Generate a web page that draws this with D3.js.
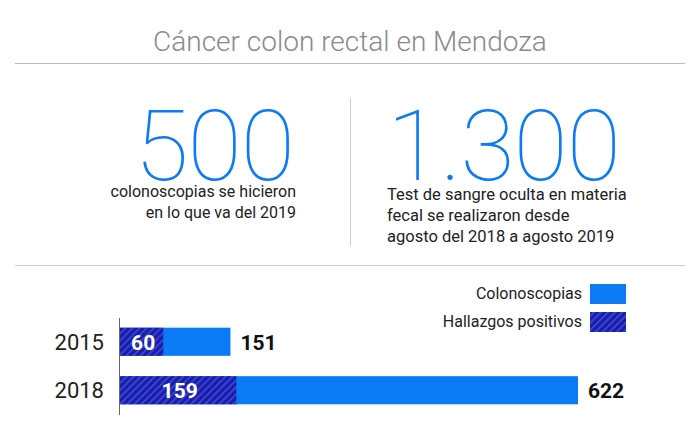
<!DOCTYPE html>
<html><head><meta charset="utf-8">
<script src="https://cdn.jsdelivr.net/npm/d3@7"></script>
<style>body{margin:0;background:#fff}text{font-family:Roboto,sans-serif}</style>
</head><body><svg id="c" width="700" height="442"></svg>
<script>
const years = ['2015', '2018'];
const colonoscopias = [151, 622];
const hallazgos = [60, 159];
const legendLabels = ['Colonoscopias', 'Hallazgos positivos'];

const svg = d3.select('#c');
const blue = '#0a7bf5', navy = '#1c1ca8';

const defs = svg.append('defs');
const pat = defs.append('pattern').attr('id', 'hatch').attr('patternUnits', 'userSpaceOnUse')
	.attr('width', 5).attr('height', 5).attr('patternTransform', 'rotate(45)');
pat.append('rect').attr('width', 5).attr('height', 5).attr('fill', navy);
pat.append('rect').attr('width', 1.4).attr('height', 5).attr('fill', '#3a55e0');

// header
svg.append('text').attr('x', 350).attr('y', 51).attr('text-anchor', 'middle')
	.attr('font-size', 28).attr('font-weight', 300).attr('fill', '#8a8a8a').text('Cáncer colon rectal en Mendoza');
svg.append('line').attr('x1', 15).attr('x2', 685).attr('y1', 63.5).attr('y2', 63.5).attr('stroke', '#bbb');
svg.append('line').attr('x1', 15).attr('x2', 685).attr('y1', 265.5).attr('y2', 265.5).attr('stroke', '#ccc');
svg.append('line').attr('x1', 350.5).attr('x2', 350.5).attr('y1', 98).attr('y2', 246).attr('stroke', '#ccc');

svg.append('text').attr('x', 294).attr('y', 180).attr('text-anchor', 'end').attr('font-size', 99)
	.attr('font-weight', 100).attr('fill', blue).attr('letter-spacing', -1).text('500');
svg.append('text').attr('x', 387).attr('y', 180).attr('font-size', 99)
	.attr('font-weight', 100).attr('fill', blue).attr('letter-spacing', -1).text('1.300');

const sub = (x, y, anchor, lines, fs) => lines.forEach((t, i) => svg.append('text').attr('x', x).attr('y', y + i * 21)
	.attr('text-anchor', anchor).attr('font-size', fs).attr('fill', '#222').text(t));
sub(296, 197, 'end', ['colonoscopias se hicieron', 'en lo que va del 2019'], 16);
sub(387, 200, 'start', ['Test de sangre oculta en materia', 'fecal se realizaron desde', 'agosto del 2018 a agosto 2019'], 16.5);

// legend
[blue, 'url(#hatch)'].forEach((f, i) => {
	svg.append('rect').attr('x', 590).attr('y', 284 + i * 28).attr('width', 36).attr('height', 20).attr('fill', f);
	svg.append('text').attr('x', 582).attr('y', 299 + i * 28).attr('text-anchor', 'end')
		.attr('font-size', 16).attr('fill', '#222').text(legendLabels[i]);
});

// bars
const x = d3.scaleLinear().domain([0, 622]).range([119, 578]);
const y = d3.scaleBand().domain(years).range([318, 414]).paddingInner(0.42).paddingOuter(0.2);
const g = svg.append('g');
g.selectAll('.b').data(years).join('rect').attr('x', x(0)).attr('y', d => y(d))
	.attr('width', (d, i) => x(colonoscopias[i]) - x(0)).attr('height', y.bandwidth()).attr('fill', blue);
g.selectAll('.h').data(years).join('rect').attr('x', x(0)).attr('y', d => y(d))
	.attr('width', (d, i) => x(hallazgos[i]) - x(0)).attr('height', y.bandwidth()).attr('fill', 'url(#hatch)');
const mid = d => y(d) + y.bandwidth() / 2 + 8;
g.selectAll('.yl').data(years).join('text').attr('x', 104).attr('y', mid).attr('text-anchor', 'end')
	.attr('font-size', 22).attr('fill', '#222').text(d => d);
g.selectAll('.tv').data(years).join('text').attr('x', (d, i) => x(colonoscopias[i]) + 10).attr('y', mid)
	.attr('font-size', 21).attr('font-weight', 700).attr('fill', '#111').text((d, i) => colonoscopias[i]);
g.selectAll('.hv').data(years).join('text').attr('x', (d, i) => (x(0) + x(hallazgos[i])) / 2 + 2).attr('y', mid)
	.attr('text-anchor', 'middle').attr('font-size', 21).attr('font-weight', 700).attr('fill', '#fff').text((d, i) => hallazgos[i]);
svg.append('line').attr('x1', 119.5).attr('x2', 119.5).attr('y1', 318).attr('y2', 415).attr('stroke', '#666');
</script></body></html>
